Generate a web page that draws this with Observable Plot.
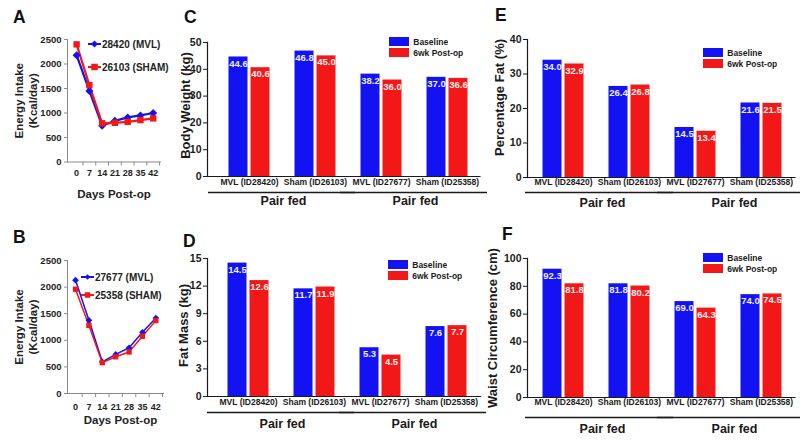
<!DOCTYPE html>
<html><head><meta charset="utf-8">
<script src="https://cdn.jsdelivr.net/npm/d3@7"></script>
<script src="https://cdn.jsdelivr.net/npm/@observablehq/plot@0.6"></script>
<style>
body{margin:0;background:#fff;}
#root{position:relative;width:800px;height:440px;overflow:hidden;background:#fff;}
.panel{position:absolute;}
.panel svg{overflow:visible;background:transparent;}
.letter{position:absolute;font:bold 17.5px "Liberation Sans",Arial,sans-serif;line-height:0.8;color:#111;}
.lkey{position:absolute;display:flex;align-items:center;font:bold 10px "Liberation Sans",Arial,sans-serif;color:#222;white-space:nowrap;}
</style></head><body><div id="root"></div>
<script>
// ---------- data ----------
const days = [0, 7, 14, 21, 28, 35, 42];
const intakeTicks = [0, 500, 1000, 1500, 2000, 2500];
const namesA = ["28420 (MVL)", "26103 (SHAM)"];
const intakeA_MVL  = [2180, 1450, 740, 840, 910, 950, 1000];
const intakeA_SHAM = [2400, 1570, 790, 800, 820, 855, 890];
const namesB = ["27677 (MVL)", "25358 (SHAM)"];
const intakeB_MVL  = [2130, 1375, 595, 735, 860, 1150, 1420];
const intakeB_SHAM = [1960, 1280, 580, 690, 780, 1075, 1370];

const subjects = ["MVL (ID28420)", "Sham (ID26103)", "MVL (ID27677)", "Sham (ID25358)"];
const timepoints = ["Baseline", "6wk Post-op"];
const groupLabels = ["Pair fed", "Pair fed"];
const bodyWeightBaseline = [44.6, 46.8, 38.2, 37.0];
const bodyWeightPost     = [40.6, 45.0, 36.0, 36.6];
const fatMassBaseline    = [14.5, 11.7, 5.3, 7.6];
const fatMassPost        = [12.6, 11.9, 4.5, 7.7];
const pctFatBaseline     = [34.0, 26.4, 14.5, 21.6];
const pctFatPost         = [32.9, 26.8, 13.4, 21.5];
const waistBaseline      = [92.3, 81.8, 69.0, 74.0];
const waistPost          = [81.8, 80.2, 64.3, 74.5];
const bwTicks = [0, 10, 20, 30, 40, 50];
const fmTicks = [0, 3, 6, 9, 12, 15];
const pfTicks = [0, 10, 20, 30, 40];
const wcTicks = [0, 20, 40, 60, 80, 100];

// ---------- styling ----------
const BLUE = "#1212f2", RED = "#f21818";
const SANS = '"Liberation Sans",Arial,sans-serif';
const root = document.getElementById("root");

function place(node, left, top) {
  const d = document.createElement("div");
  d.className = "panel";
  d.style.left = left + "px"; d.style.top = top + "px";
  d.appendChild(node); root.appendChild(d);
}
function letter(ch, left, top) {
  const d = document.createElement("div");
  d.className = "letter"; d.textContent = ch;
  d.style.left = left + "px"; d.style.top = top + "px";
  root.appendChild(d);
}
function lineKey(name, color, symbol, left, cy, size) {
  const d = document.createElement("div");
  d.className = "lkey";
  d.style.left = left + "px"; d.style.top = (cy - 8) + "px"; d.style.height = "16px";
  const w = 13, s = size;
  const mark = symbol === "diamond"
    ? `<rect x="${w/2 - s/2}" y="${8 - s/2}" width="${s}" height="${s}" fill="${color}" transform="rotate(45 ${w/2} 8)"/>`
    : `<rect x="${w/2 - s/2}" y="${8 - s/2}" width="${s}" height="${s}" fill="${color}"/>`;
  d.innerHTML = `<svg width="${w}" height="16" style="overflow:visible"><line x1="0" x2="${w}" y1="8" y2="8" stroke="${color}" stroke-width="2"/>${mark}</svg><span style="margin-left:1px">${name}</span>`;
  root.appendChild(d);
}

// ---------- line panels (A, B) ----------
function linePanel(o) {
  const rows = days.flatMap((d, i) => [
    {day: d, v: o.mvl[i], s: o.names[0]},
    {day: d, v: o.sham[i], s: o.names[1]}
  ]);
  const W = 175, H = o.height;
  const svg = Plot.plot({
    width: W, height: H,
    marginLeft: 67, marginRight: W - o.xRight,
    marginTop: o.yTop - o.top, marginBottom: o.top + H - o.yBottom,
    style: {background: "transparent", overflow: "visible", fontFamily: SANS, fontWeight: "bold", color: "#222"},
    x: {domain: o.xDomain},
    y: {domain: [0, 2500]},
    color: {domain: o.names, range: [BLUE, RED]},
    marks: [
      Plot.frame({anchor: "left", stroke: "#8a8a8a"}),
      Plot.frame({anchor: "bottom", stroke: "#8a8a8a"}),
      Plot.axisY({ticks: intakeTicks, tickFormat: d => String(d), tickSize: 3, tickPadding: 3, fontSize: 9.5, label: null, stroke: "#8a8a8a"}),
      Plot.axisX({ticks: days.map(d => d + 3.5), tickSize: 4, tickFormat: () => "", label: null, stroke: "#8a8a8a"}),
      Plot.axisX({ticks: days, tickFormat: d => String(d), tickSize: 0, tickPadding: o.xPad, fontSize: 9, label: null}),
      Plot.lineY(rows, {x: "day", y: "v", stroke: "s", strokeWidth: o.sw}),
      Plot.dot(rows.filter(r => r.s === o.names[0]), {x: "day", y: "v", symbol: "diamond2", r: o.r, fill: BLUE}),
      Plot.dot(rows.filter(r => r.s === o.names[1]), {x: "day", y: "v", symbol: "square", r: o.r, fill: RED}),
      Plot.text(["Days Post-op"], {text: d => d, frameAnchor: "bottom", lineAnchor: "middle", textAnchor: "middle",
        dy: o.xTitleDy, dx: o.xTitleDx, fontSize: 11.5}),
      Plot.text(["Energy Intake\n(Kcal/day)"], {text: d => d, frameAnchor: "left", rotate: -90, textAnchor: "middle",
        lineAnchor: "middle", dx: -42, dy: o.yTitleDy, fontSize: 11.5, lineHeight: 1.2})
    ]
  });
  place(svg, 0, o.top);
}

linePanel({top: 0, height: 210, yTop: 39, yBottom: 161.5, xRight: 160, xDomain: [-5, 46], xPad: 8,
  mvl: intakeA_MVL, sham: intakeA_SHAM, names: namesA, sw: 2.2, r: 3.6, xTitleDy: 32, xTitleDx: 0, yTitleDy: 0});
linePanel({top: 215, height: 215, yTop: 260, yBottom: 393, xRight: 163, xDomain: [-4.2, 46], xPad: 10,
  mvl: intakeB_MVL, sham: intakeB_SHAM, names: namesB, sw: 1.5, r: 3, xTitleDy: 27, xTitleDx: 5, yTitleDy: 0});

lineKey(namesA[0], BLUE, "diamond", 88, 44, 5);
lineKey(namesA[1], RED, "square", 88, 67, 6.5);
lineKey(namesB[0], BLUE, "diamond", 81, 277, 4);
lineKey(namesB[1], RED, "square", 81, 295, 5.5);

// ---------- bar panels (C–F) ----------
function barPanel(o) {
  const rows = subjects.flatMap((s, i) => [
    {subject: s, tp: timepoints[0], value: o.base[i]},
    {subject: s, tp: timepoints[1], value: o.post[i]}
  ]);
  const baseRows = rows.filter(r => r.tp === timepoints[0]);
  const postRows = rows.filter(r => r.tp === timepoints[1]);
  const groups = [
    {label: groupLabels[0], a: subjects[0], b: subjects[1]},
    {label: groupLabels[1], a: subjects[2], b: subjects[3]}
  ];
  const W = o.width, H = o.height;
  const svg = Plot.plot({
    width: W, height: H,
    marginLeft: o.axisX - o.left, marginRight: o.left + W - o.bandEnd,
    marginTop: o.yTop - o.top, marginBottom: o.top + H - o.yBottom,
    x: {domain: subjects, range: [o.bandStart - o.left, o.bandEnd - o.left], padding: 0},
    y: {domain: [0, o.ticks[o.ticks.length - 1]]},
    color: {domain: timepoints, range: [BLUE, RED]},
    style: {background: "transparent", overflow: "visible", fontFamily: SANS, fontWeight: "bold", color: "#1a1a1a"},
    marks: [
      Plot.barY(baseRows, {x: "subject", y: "value", fill: "tp", insetLeft: 12.5, insetRight: 34.5}),
      Plot.barY(postRows, {x: "subject", y: "value", fill: "tp", insetLeft: 34.5, insetRight: 12.5}),
      Plot.text(baseRows, {x: "subject", y: "value", text: d => d.value.toFixed(1), dx: -11, dy: 6.5,
        fill: "#eeeeff", fontSize: 9.5}),
      Plot.text(postRows, {x: "subject", y: "value", text: d => d.value.toFixed(1), dx: 11, dy: 6.5,
        fill: "#ffeeee", fontSize: 9.5}),
      Plot.frame({anchor: "left", stroke: "#1a1a1a", strokeWidth: 1.2}),
      Plot.frame({anchor: "bottom", stroke: "#1a1a1a", strokeWidth: 1.2}),
      Plot.axisY({ticks: o.ticks, tickSize: 4, tickPadding: 2, fontSize: 10.5, label: null}),
      Plot.axisX({tickSize: 0, tickPadding: o.catPad, fontSize: 8.5, label: null}),
      Plot.ruleY(groups, {y: 0, x1: "a", x2: "b", dy: o.underDy, insetLeft: o.underL, insetRight: o.underR,
        stroke: "#1a1a1a", strokeWidth: 1.4}),
      Plot.text(groups, {x: "a", y: 0, dx: o.groupDx, dy: o.groupDy, text: "label", fontSize: 12.5}),
      Plot.text([o.title], {text: d => d, frameAnchor: "left", rotate: -90, textAnchor: "middle", lineAnchor: "middle",
        dx: o.titleX - o.axisX, dy: o.titleDy, fontSize: 13})
    ]
  });
  place(svg, o.left, o.top);

  const leg = Plot.legend({
    color: {domain: timepoints, range: [BLUE, RED]},
    swatchWidth: 20, swatchHeight: 9, columns: 1,
    style: {fontSize: "8.5px", fontWeight: "bold", fontFamily: SANS, background: "transparent", color: "#1a1a1a", lineHeight: "10px"}
  });
  leg.style.position = "absolute";
  leg.style.left = o.legX + "px";
  leg.style.top = o.legY + "px";
  leg.style.margin = "0";
  root.appendChild(leg);
}

barPanel({left: 160, top: 0, width: 330, height: 215, axisX: 207, yTop: 42, yBottom: 176,
  bandStart: 215.5, bandEnd: 479.5, base: bodyWeightBaseline, post: bodyWeightPost, ticks: bwTicks,
  title: "Body Weight (kg)", titleX: 185, titleDy: -4, catPad: 2.5, underDy: 16, underL: -8, underR: -7,
  groupDx: 34, groupDy: 24, legX: 389, legY: 36.5});
barPanel({left: 160, top: 215, width: 330, height: 225, axisX: 207, yTop: 258, yBottom: 396,
  bandStart: 214, bandEnd: 480, base: fatMassBaseline, post: fatMassPost, ticks: fmTicks,
  title: "Fat Mass (kg)", titleX: 183, titleDy: -2, catPad: 2.5, underDy: 16, underL: -8, underR: -7,
  groupDx: 34, groupDy: 27, legX: 388, legY: 259.5});
barPanel({left: 440, top: 0, width: 360, height: 215, axisX: 527, yTop: 39, yBottom: 177,
  bandStart: 529.5, bandEnd: 794.5, base: pctFatBaseline, post: pctFatPost, ticks: pfTicks,
  title: "Percentage Fat (%)", titleX: 499, titleDy: -11, catPad: 1.5, underDy: 15, underL: -5, underR: -11,
  groupDx: 39, groupDy: 25, legX: 703, legY: 47.5});
barPanel({left: 440, top: 215, width: 360, height: 225, axisX: 527, yTop: 258, yBottom: 397,
  bandStart: 529.5, bandEnd: 794.5, base: waistBaseline, post: waistPost, ticks: wcTicks,
  title: "Waist Circumference (cm)", titleX: 492, titleDy: 0, catPad: 1.5, underDy: 20, underL: -5, underR: -11,
  groupDx: 39, groupDy: 31, legX: 703, legY: 252.5});

// ---------- panel letters ----------
letter("A", 13, 9.5);
letter("B", 13, 229.5);
letter("C", 184, 9.5);
letter("D", 183, 234);
letter("E", 495, 7.5);
letter("F", 502, 226.5);
</script></body></html>
